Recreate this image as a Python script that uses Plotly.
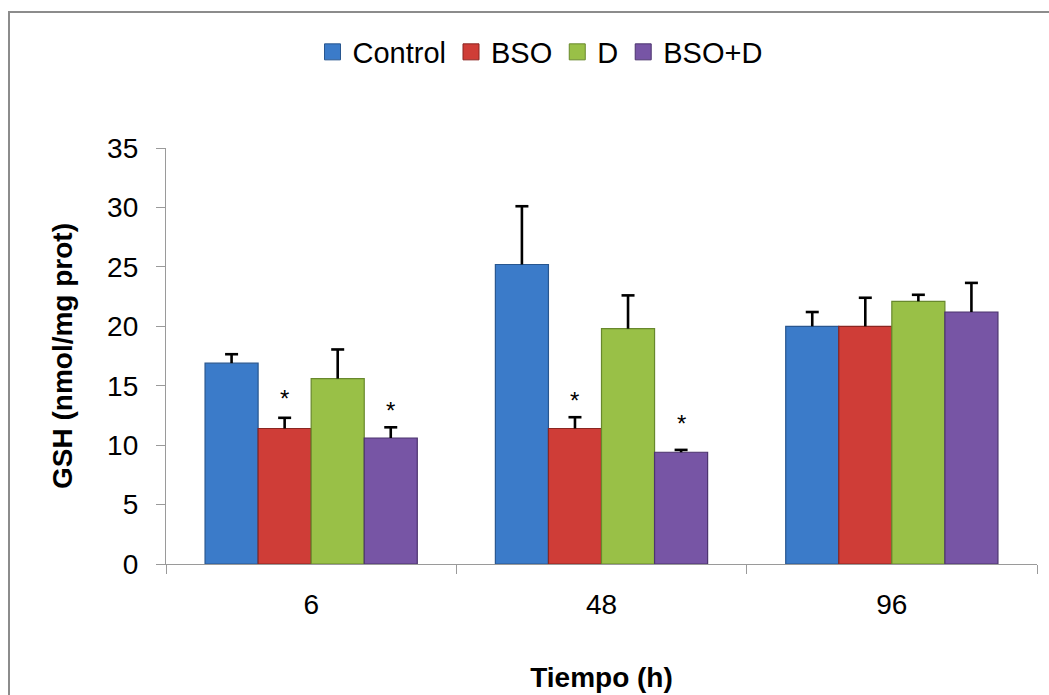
import plotly.graph_objects as go

categories = ["6", "48", "96"]
series_names = ["Control", "BSO", "D", "BSO+D"]
control = [16.9, 25.2, 20.0]
bso = [11.4, 11.4, 20.0]
d = [15.6, 19.8, 22.1]
bso_d = [10.6, 9.4, 21.2]
control_err = [0.75, 4.9, 1.2]
bso_err = [0.9, 0.95, 2.4]
d_err = [2.45, 2.8, 0.55]
bso_d_err = [0.9, 0.2, 2.45]
# asterisk (significance) marks: y value of the mark, None = no mark
bso_sig = [14.4, 14.3, None]
bso_d_sig = [13.4, 12.3, None]
y_ticks = [0, 5, 10, 15, 20, 25, 30, 35]

values = [control, bso, d, bso_d]
errors = [control_err, bso_err, d_err, bso_d_err]
sigs = [None, bso_sig, None, bso_d_sig]
fills = ["#3b7bc9", "#cf3d37", "#99c047", "#7755a5"]
edges = ["#28568f", "#8b2520", "#68882c", "#4c346e"]

FONT = "Liberation Sans, Arial, sans-serif"
BARGAP = 0.269

fig = go.Figure()
for name, vals, err, fc, ec in zip(series_names, values, errors, fills, edges):
    fig.add_trace(go.Bar(
        x=categories, y=vals, name=name, showlegend=False, legendgroup=name,
        marker=dict(color=fc, line=dict(color=ec, width=1.2)),
        error_y=dict(type="data", symmetric=False, array=err,
                     arrayminus=[0] * len(err), color="#000000",
                     thickness=2.6, width=0),
    ))
for name, fc, ec in zip(series_names, fills, edges):
    fig.add_trace(go.Scatter(
        x=[None], y=[None], mode="markers", name=name, legendgroup=name,
        marker=dict(symbol="square", size=16, color=fc, line=dict(color=ec, width=1)),
    ))

n = len(series_names)
w = (1 - BARGAP) / n


def bar_x(ci, si):
    return ci + (si - (n - 1) / 2) * w


# upper caps of the error bars (only the top end, as in the reference)
for si, (vals, err) in enumerate(zip(values, errors)):
    for ci, (v, e) in enumerate(zip(vals, err)):
        fig.add_shape(type="line", xref="x", yref="y", xsizemode="pixel",
                      xanchor=bar_x(ci, si), x0=-6.5, x1=6.5, y0=v + e, y1=v + e,
                      line=dict(color="#000000", width=2.6))

# asterisks placed over the corresponding bar
for si, sig in enumerate(sigs):
    if sig is None:
        continue
    for ci, yv in enumerate(sig):
        if yv is None:
            continue
        fig.add_annotation(
            x=bar_x(ci, si), y=yv, xref="x", yref="y",
            text="*", showarrow=False, yanchor="middle", yshift=-6,
            font=dict(family=FONT, size=24, color="#000000"),
        )

L, R, T, B = 166, 12, 148, 131
W, H = 1049, 695
pw, ph = W - L - R, H - T - B
# outer chart border (extends past right/bottom edges as in the reference)
fig.add_shape(type="rect", xref="paper", yref="paper",
              x0=(9 - L) / pw, x1=(W + 20 - L) / pw,
              y0=-(B + 20) / ph, y1=(H - B - 12) / ph,
              line=dict(color="#8c8c8c", width=2), fillcolor="rgba(0,0,0,0)", layer="below")

axis_col = "#9a9a9a"
fig.update_layout(
    width=W, height=H,
    margin=dict(l=L, r=R, t=T, b=B, pad=0, autoexpand=False),
    paper_bgcolor="white", plot_bgcolor="white",
    barmode="group", bargap=BARGAP, bargroupgap=0,
    font=dict(family=FONT, color="#000000"),
    legend=dict(orientation="h", x=(540 - L) / pw, xanchor="center",
                y=(H - B - 52) / ph, yanchor="middle",
                font=dict(family=FONT, size=29, color="#000000"),
                itemwidth=30, tracegroupgap=0, bgcolor="rgba(0,0,0,0)"),
    xaxis=dict(
        type="category", showline=True, linecolor=axis_col, linewidth=1.3,
        ticks="outside", tickson="boundaries", ticklen=9, tickcolor=axis_col, tickwidth=1.3,
        tickfont=dict(family=FONT, size=28, color="#000000"),
        ticklabelstandoff=15, showgrid=False, zeroline=False, automargin=False,
        title=dict(text="<b>Tiempo (h)</b>", font=dict(family=FONT, size=28, color="#000000"),
                   standoff=48),
    ),
    yaxis=dict(
        range=[0, 35], tickvals=y_ticks, showline=True, linecolor=axis_col, linewidth=1.3,
        ticks="outside", ticklen=9, tickcolor=axis_col, tickwidth=1.3,
        tickfont=dict(family=FONT, size=28, color="#000000"),
        ticklabelstandoff=12, showgrid=False, zeroline=False, automargin=False,
        title=dict(text="<b>GSH (nmol/mg prot)</b>", font=dict(family=FONT, size=28, color="#000000"),
                   standoff=26),
    ),
)

fig.write_html("out.html")
